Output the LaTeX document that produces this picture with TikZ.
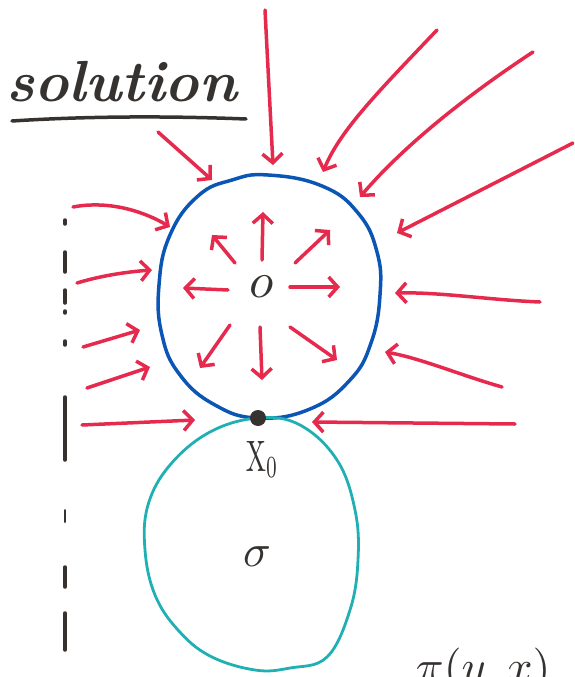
\documentclass[tikz,border=0pt]{standalone}
\usetikzlibrary{arrows.meta}
\definecolor{arrred}{HTML}{E62A4E}
\definecolor{circblue}{HTML}{0B55B5}
\definecolor{circcyan}{HTML}{20AFB3}
\definecolor{ink}{HTML}{363230}
\begin{document}
\begin{tikzpicture}[x=1pt,y=-1pt,
  redarr/.style={draw=arrred, line width=3.5pt, line cap=round, line join=round,
    -{Straight Barb[length=9pt,width=20pt]}},
  inkline/.style={draw=ink, line width=3.5pt, line cap=round},
  lbl/.style={inner sep=0pt, text=ink}]
\useasboundingbox (0,0) rectangle (574,677);
\clip (0,0) rectangle (574,677);

% title
\node[lbl, anchor=base west, font=\fontsize{58}{66}\selectfont\bfseries\itshape] (title) at (6,101) {solution};
\draw[inkline] (12,121) .. controls (90,116) and (170,116) .. (246,119);

% dashed boundary
\foreach \a/\b in {220/224, 252/272, 290/303, 311/313, 341/345, 397/460, 567/587, 613/650}
  \draw[inkline] (65,\a) -- (65,\b);
\draw[inkline, line width=2pt] (65,510) -- (65,522);

% circles
\draw[circblue, line width=3.5pt] plot[smooth cycle, tension=0.75] coordinates {
 (268,175) (322,186) (358,213) (377,252) (380,295) (371,343) (350,380) (310,409)
 (258,418) (215,405) (180,375) (162,335) (159,285) (170,235) (198,196) (232,180)};
\draw[circcyan, line width=2.8pt] plot[smooth cycle, tension=0.65] coordinates {
 (258,418) (300,425) (337,460) (355,510) (358,560) (350,610) (327,657) (290,668)
 (255,670) (210,656) (178,630) (155,595) (145,550) (148,505) (170,465) (210,432)};

% outer arrows
\draw[redarr] (158,132) -- (212,180);
\draw[redarr] (265,10) -- (273,165);
\draw[redarr] (437,30) .. controls (380,90) and (340,130) .. (323,172);
\draw[redarr] (533,52) .. controls (460,100) and (400,150) .. (360,197);
\draw[redarr] (573,143) -- (397,233);
\draw[redarr] (540,302) .. controls (490,300) and (440,292) .. (395,293);
\draw[redarr] (502,387) .. controls (460,375) and (420,358) .. (385,352);
\draw[redarr] (515,424) -- (312,422);
\draw[redarr] (73,207) .. controls (110,200) and (145,212) .. (170,227);
\draw[redarr] (77,283) .. controls (100,276) and (125,272) .. (152,270);
\draw[redarr] (83,347) -- (140,330);
\draw[redarr] (87,388) -- (150,367);
\draw[redarr] (82,425) -- (195,420);

% inner arrows
\draw[redarr] (262,260) -- (263,212);
\draw[redarr] (295,263) -- (330,230);
\draw[redarr] (290,287) -- (340,287);
\draw[redarr] (290,327) -- (337,360);
\draw[redarr] (260,327) -- (262,380);
\draw[redarr] (230,325) -- (200,368);
\draw[redarr] (228,290) -- (183,288);
\draw[redarr] (235,263) -- (212,235);

% point and labels
\node[circle, fill=ink, inner sep=0pt, minimum size=16pt] (x0) at (258,418) {};
\node[lbl, xscale=2.7, yscale=4.4, anchor=base] (x0lab) at (262,471) {$\mathrm{X}_0$};
\node[lbl, scale=5] (o) at (262,287) {$o$};
\node[lbl, scale=4.6] (sig) at (257,557) {$\sigma$};
\node[lbl, scale=4.6, anchor=base west] (pi) at (415,682) {$\pi(y,x)$};
\end{tikzpicture}
\end{document}
